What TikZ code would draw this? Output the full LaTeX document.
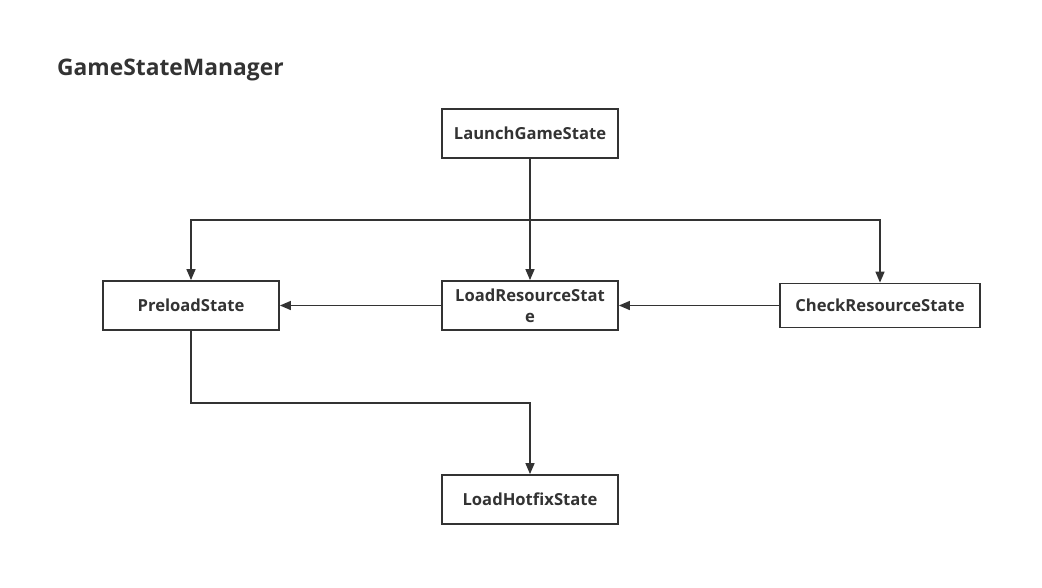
\documentclass[tikz,border=0pt]{standalone}
\usepackage{fontspec}
\setmainfont{Open Sans}
\usetikzlibrary{arrows.meta}
\definecolor{ink}{HTML}{333333}
\tikzset{
  stbox/.style={draw=ink, line width=1.8pt, minimum width=176pt, minimum height=49pt, inner sep=0pt, align=center, text=ink, font=\fontsize{16.6}{21}\selectfont\bfseries},
  conn/.style={draw=ink, line width=1.5pt, -{Triangle[length=11pt,width=9pt]}},
}
\begin{document}
\begin{tikzpicture}[x=1pt,y=-1pt]
\useasboundingbox (0,0) rectangle (1042,587);
\fill[white] (0,0) rectangle (1042,587);
\node[anchor=west, inner sep=0pt, text=ink, font=\fontsize{22.8}{27}\selectfont\bfseries] (title) at (57,70) {GameStateManager};
\node[stbox] (launch) at (530,133.5) {LaunchGameState};
\node[stbox] (preload) at (191,305.5) {PreloadState};
\node[stbox] (loadres) at (530,305.5) {LoadResourceStat\\e};
\node[stbox, minimum width=200pt, minimum height=44pt] (check) at (880,305.5) {CheckResourceState};
\node[stbox] (hotfix) at (530,499.5) {LoadHotfixState};
\coordinate (split) at (530,220);
\draw[conn] (launch.south) -- (loadres.north);
\draw[conn] (split) -| (preload.north);
\draw[conn] (split) -| (check.north);
\draw[conn] (loadres.west) -- (preload.east);
\draw[conn] (check.west) -- (loadres.east);
\draw[conn] (preload.south) |- (530,403) -- (hotfix.north);
\end{tikzpicture}
\end{document}
